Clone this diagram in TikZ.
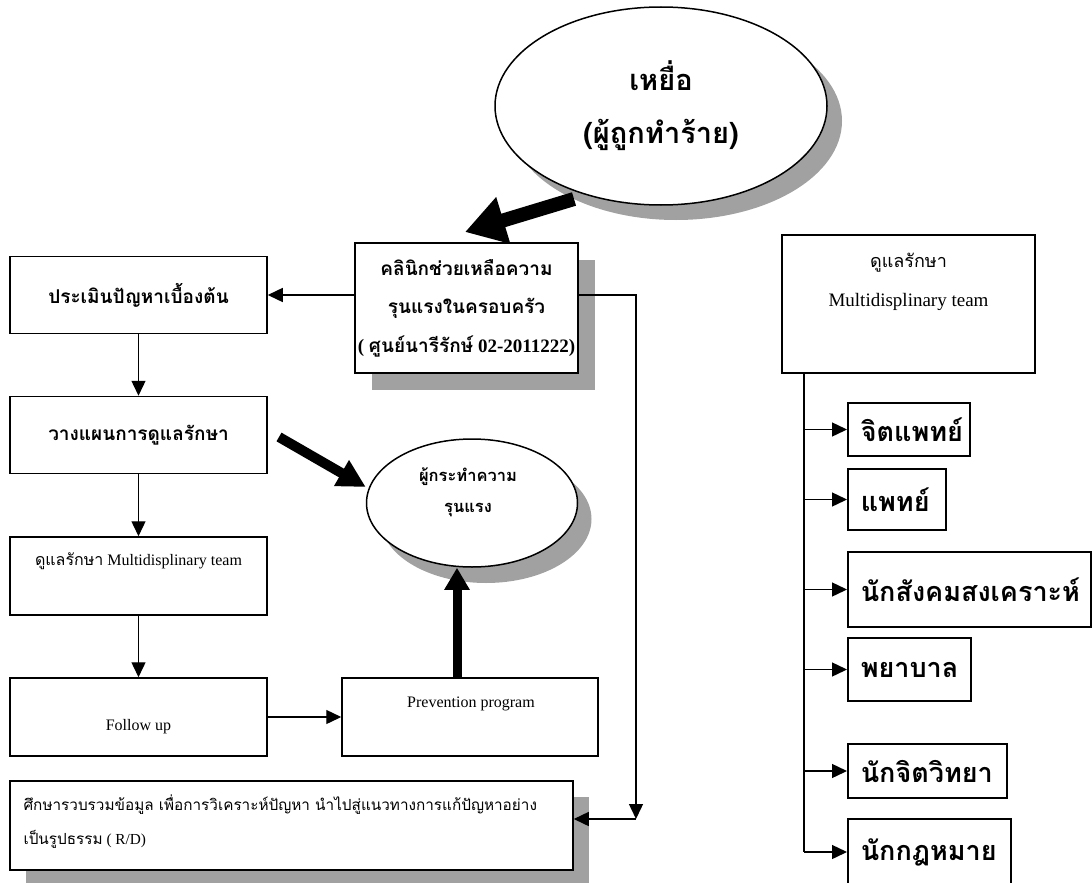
\documentclass[tikz,border=0pt]{standalone}
\usepackage{fontspec}
\setmainfont{Liberation Serif}
\newfontfamily\thai[Script=Thai]{Loma}
\usetikzlibrary{arrows.meta,shapes.geometric,shadows}
\begin{document}
\begin{tikzpicture}[x=1pt,y=-1pt,
  box/.style={draw, line width=1.5pt, rectangle, inner sep=0pt, fill=white},
  shbox/.style={box, general shadow={fill=black!37, shadow xshift=#1, shadow yshift=-#1}},
  lbox/.style={box, minimum width=257pt, minimum height=77pt},
  rbox/.style={box, anchor=west, minimum width=#1, align=left, font=\thai\bfseries\fontsize{27}{30}\selectfont},
  arr/.style={line width=1.4pt, -{Triangle[length=15pt,width=14pt]}},
  thick1/.style={line width=14pt, -{Triangle[length=40pt,width=46pt]}},
  thick2/.style={line width=10pt, -{Triangle[length=28pt,width=28pt]}},
  thick3/.style={line width=9pt, -{Triangle[length=22pt,width=24pt]}},
  hd/.style={font=\thai\bfseries\fontsize{19}{22}\selectfont},
  sm/.style={font=\fontsize{16}{19}\selectfont},
]
\useasboundingbox (0,0) rectangle (1092,883);

% victim ellipse
\node[ellipse, draw, line width=1.5pt, fill=white, minimum width=332pt, minimum height=198pt,
  inner sep=0pt, general shadow={fill=black!37, shadow xshift=15pt, shadow yshift=-15pt},
  align=center, font=\thai\bfseries\fontsize{29}{53}\selectfont] (victim) at (661,106)
  {เหยื่อ\\(ผู้ถูกทำร้าย)};

% clinic
\node[shbox=17pt, minimum width=223pt, minimum height=130pt, align=center,
  font=\bfseries\fontsize{19}{38.5}\selectfont] (clinic) at (466.5,308)
  {{\thai คลินิกช่วยเหลือความ}\\{\thai รุนแรงในครอบครัว}\\( {\thai ศูนย์นารีรักษ์} 02-2011222)};

% left column
\node[lbox, hd] (b1) at (138.5,295) {ประเมินปัญหาเบื้องต้น};
\node[lbox, hd] (b2) at (138.5,435) {วางแผนการดูแลรักษา};
\node[lbox, minimum height=78pt] (b3) at (138.5,576) {};
\node[sm] (b3t) at (138.5,561) {{\thai ดูแลรักษา} Multidisplinary team};
\node[lbox, minimum height=78pt] (b4) at (138.5,717) {};
\node[sm] (b4t) at (138.5,727) {Follow up};
\node[box, minimum width=256pt, minimum height=78pt] (prev) at (470,717) {};
\node[sm] (prevt) at (471,704) {Prevention program};

% perpetrator ellipse
\node[ellipse, draw, line width=1.5pt, fill=white, minimum width=211pt, minimum height=128pt,
  inner sep=0pt, general shadow={fill=black!37, shadow xshift=14pt, shadow yshift=-16pt}] (perp) at (472,503) {};
\node[align=center, font=\thai\bfseries\fontsize{16.5}{31}\selectfont] (perpt) at (468,492) {ผู้กระทำความ\\รุนแรง};

% research box
\node[shbox=16pt, minimum width=563pt, minimum height=89pt] (rd) at (291.5,825.5) {};
\node[anchor=west, align=left, font=\fontsize{15.3}{34}\selectfont] (rdt) at (20,822)
  {{\thai ศึกษารวบรวมข้อมูล เพื่อการวิเคราะห์ปัญหา นำไปสู่แนวทางการแก้ปัญหาอย่าง}\\{\thai เป็นรูปธรรม} ( R/D)};

% right team box
\node[box, minimum width=253pt, minimum height=138pt] (rt) at (908.5,304) {};
\node[align=center, font=\fontsize{19}{39}\selectfont] (rtt) at (908.5,281.5)
  {{\thai\fontsize{18}{39}\selectfont ดูแลรักษา}\\Multidisplinary team};

\node[rbox=122pt, minimum height=53pt, text width=96pt, inner xsep=13pt] (r1) at (847,429.5) {จิตแพทย์};
\node[rbox=98pt, minimum height=61pt, text width=72pt, inner xsep=13pt] (r2) at (847,499.5) {แพทย์};
\node[rbox=243pt, minimum height=75pt, text width=217pt, inner xsep=13pt] (r3) at (847,589.5) {นักสังคมสงเคราะห์};
\node[rbox=123pt, minimum height=63pt, text width=97pt, inner xsep=13pt] (r4) at (847,669.5) {พยาบาล};
\node[rbox=159pt, minimum height=54pt, text width=133pt, inner xsep=13pt] (r5) at (847,771) {นักจิตวิทยา};
\node[rbox=163pt, minimum height=66pt, text width=137pt, inner xsep=13pt] (r6) at (847,852) {นักกฎหมาย};

\coordinate (vx) at (804,0);
\draw[line width=1.4pt] (rt.south -| vx) -- (vx |- r6.west);
\foreach \i in {1,...,6} \draw[arr] (vx |- r\i.west) -- (r\i.west);

% thin connectors
\draw[arr] (b1.south) -- (b2.north);
\draw[arr] (b2.south) -- (b3.north);
\draw[arr] (b3.south) -- (b4.north);
\draw[arr] (b4.east) -- (prev.west);
\draw[arr] (clinic.west |- b1.east) -- (b1.east);
\coordinate (c1) at (636,295);
\coordinate (c2) at (636,819);
\draw[arr] (clinic.east |- c1) -- (c1) -- (c2);
\draw[arr] (c2) -- (rd.east |- c2);

% thick arrows
\coordinate (a1s) at (574,199);
\coordinate (a1e) at (465,232);
\draw[thick1] (a1s) -- (a1e);
\coordinate (a2s) at (279,437);
\draw[thick2] (a2s) -- (perp.west |- 0,487);
\draw[thick3] (prev.north -| 457,0) -- (perp.south -| 457,0);
\end{tikzpicture}
\end{document}
